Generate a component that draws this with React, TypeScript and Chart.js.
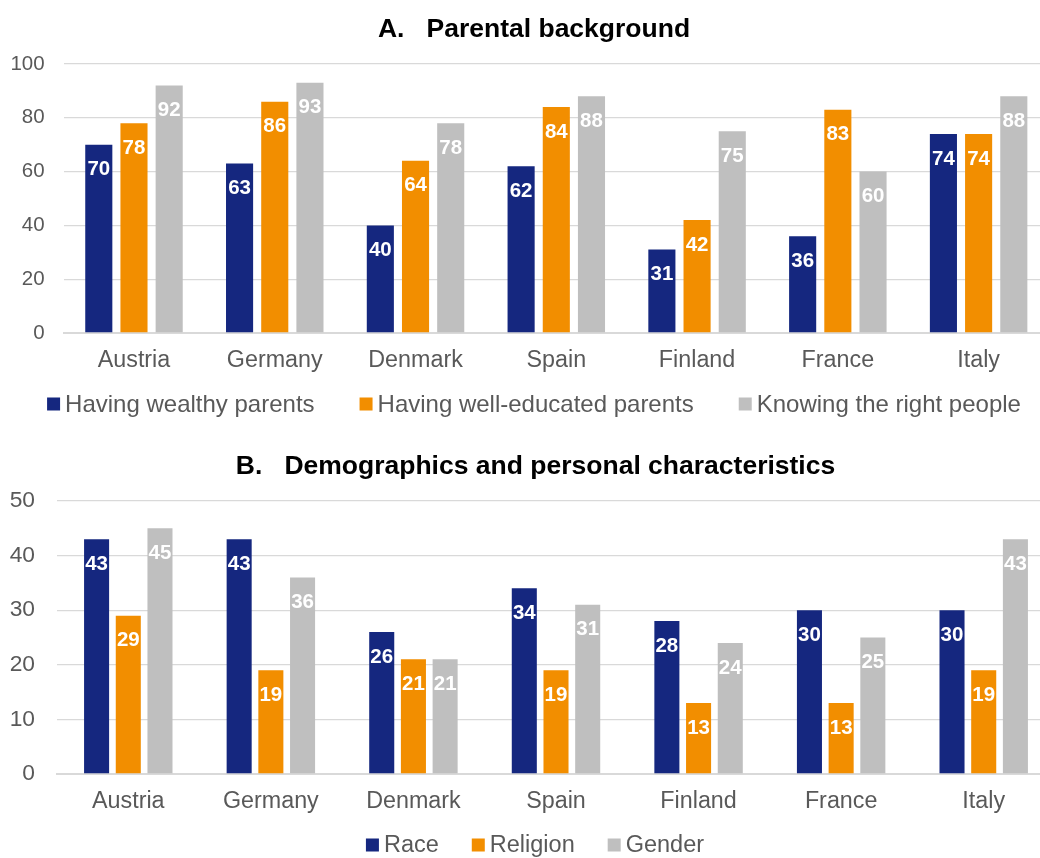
import React, { useEffect, useRef } from "react";
import { Chart, registerables } from "chart.js";

Chart.register(...registerables);

// ---------- data ----------
const countries = ["Austria", "Germany", "Denmark", "Spain", "Finland", "France", "Italy"];

const seriesNamesA = ["Having wealthy parents", "Having well-educated parents", "Knowing the right people"];
const wealthyParents = [70, 63, 40, 62, 31, 36, 74];
const educatedParents = [78, 86, 64, 84, 42, 83, 74];
const rightPeople = [92, 93, 78, 88, 75, 60, 88];
const ticksA = [0, 20, 40, 60, 80, 100];

const seriesNamesB = ["Race", "Religion", "Gender"];
const race = [43, 43, 26, 34, 28, 30, 30];
const religion = [29, 19, 21, 19, 13, 13, 19];
const gender = [45, 36, 21, 31, 24, 25, 43];
const ticksB = [0, 10, 20, 30, 40, 50];

const titleA = "A.   Parental background";
const titleB = "B.   Demographics and personal characteristics";

// ---------- styles ----------
const NAVY = "#15277F";
const ORANGE = "#F28E00";
const GRAY = "#BFBFBF";
const TEXT = "#595959";
const GRID = "#D9D9D9";
const FONT = "'Liberation Sans', Arial, Helvetica, sans-serif";

Chart.defaults.font.family = FONT;

const barLabels = {
  id: "barLabels",
  afterDatasetsDraw(chart: any, _args: any, opts: any) {
    const ctx = chart.ctx;
    ctx.save();
    ctx.font = `bold ${opts.size || 21}px ${FONT}`;
    ctx.fillStyle = "#ffffff";
    ctx.textAlign = "center";
    ctx.textBaseline = "middle";
    chart.data.datasets.forEach((ds: any, i: number) => {
      const meta = chart.getDatasetMeta(i);
      meta.data.forEach((bar: any, j: number) => {
        ctx.fillText(String(ds.data[j]), bar.x, bar.y + (opts.offset || 24));
      });
    });
    ctx.restore();
  },
};

const panelTitle = {
  id: "panelTitle",
  afterDraw(chart: any, _args: any, opts: any) {
    const ctx = chart.ctx;
    ctx.save();
    ctx.font = `bold ${opts.size}px ${FONT}`;
    ctx.fillStyle = "#000000";
    ctx.textAlign = "center";
    ctx.textBaseline = "middle";
    ctx.fillText(opts.text, opts.x, opts.y);
    ctx.restore();
  },
};

const boxLegend = {
  id: "boxLegend",
  afterDraw(chart: any, _args: any, opts: any) {
    const ctx = chart.ctx;
    const size = opts.fontSize || 23;
    const box = opts.box || 13;
    const gapBox = opts.gapBox || 5;
    const gap = opts.gap || 40;
    ctx.save();
    ctx.font = `${size}px ${FONT}`;
    ctx.textBaseline = "middle";
    ctx.textAlign = "left";
    const items = chart.data.datasets.map((ds: any) => ({
      text: ds.label,
      color: ds.backgroundColor,
      w: ctx.measureText(ds.label).width,
    }));
    const total =
      items.reduce((s: number, it: any) => s + box + gapBox + it.w, 0) + gap * (items.length - 1);
    let x = (opts.center ?? chart.width / 2) - total / 2;
    const y = opts.y;
    items.forEach((it: any) => {
      ctx.fillStyle = it.color;
      ctx.fillRect(x, y - box / 2, box, box);
      x += box + gapBox;
      ctx.fillStyle = TEXT;
      ctx.fillText(it.text, x, y + 1);
      x += it.w + gap;
    });
    ctx.restore();
  },
};

type PanelSpec = {
  title: string;
  names: string[];
  values: number[][];
  ticks: number[];
  width: number;
  height: number;
  axisLeft: number;
  padRight: number;
  tickPad: number;
  tickSize: number;
  plotTop: number;
  titleX: number;
  titleY: number;
  xAxisHeight: number;
  legendY: number;
  legendGap: number;
  legendCenter: number;
  legendFont: number;
  catPct: number;
  barPct: number;
};

function makeConfig(p: PanelSpec): any {
  const colors = [NAVY, ORANGE, GRAY];
  return {
    type: "bar",
    data: {
      labels: countries,
      datasets: p.values.map((vals, i) => ({
        label: p.names[i],
        data: vals,
        backgroundColor: colors[i],
        borderWidth: 0,
        categoryPercentage: p.catPct,
        barPercentage: p.barPct,
      })),
    },
    options: {
      responsive: false,
      animation: false,
      devicePixelRatio: 1,
      layout: { padding: { left: 0, right: p.padRight, top: p.plotTop, bottom: 0 } },
      plugins: {
        legend: { display: false },
        tooltip: { enabled: false },
        title: { display: false },
        panelTitle: { text: p.title, x: p.titleX, y: p.titleY, size: 26.5 },
        barLabels: { size: 20.5, offset: 25 },
        boxLegend: {
          y: p.legendY,
          gap: p.legendGap,
          fontSize: p.legendFont,
          box: 13,
          gapBox: 5,
          center: p.legendCenter,
        },
      },
      scales: {
        x: {
          grid: { display: false, drawTicks: false },
          border: { display: true, color: GRID, width: 2 },
          ticks: { color: TEXT, font: { size: 23.3 }, padding: 14 },
          afterFit: (s: any) => {
            s.height = p.xAxisHeight;
          },
        },
        y: {
          min: p.ticks[0],
          max: p.ticks[p.ticks.length - 1],
          grid: { color: GRID, lineWidth: 1.3, drawTicks: false },
          border: { display: false },
          ticks: { color: TEXT, font: { size: p.tickSize }, padding: p.tickPad },
          afterBuildTicks: (s: any) => {
            s.ticks = p.ticks.map((v) => ({ value: v }));
          },
          afterFit: (s: any) => {
            s.width = p.axisLeft;
          },
        },
      },
    },
    plugins: [barLabels, boxLegend, panelTitle],
  };
}

const panelA: PanelSpec = {
  title: titleA,
  names: seriesNamesA,
  values: [wealthyParents, educatedParents, rightPeople],
  ticks: ticksA,
  width: 1064,
  height: 430,
  axisLeft: 63.6,
  padRight: 15,
  tickPad: 19,
  tickSize: 20.5,
  plotTop: 64,
  titleX: 534,
  titleY: 30,
  xAxisHeight: 97,
  legendY: 404,
  legendGap: 45,
  legendCenter: 534,
  legendFont: 24,
  catPct: 0.75,
  barPct: 0.77,
};

const panelB: PanelSpec = {
  title: titleB,
  names: seriesNamesB,
  values: [race, religion, gender],
  ticks: ticksB,
  width: 1068,
  height: 428,
  axisLeft: 57,
  padRight: 13,
  tickPad: 22,
  tickSize: 22.8,
  plotTop: 71,
  titleX: 535.5,
  titleY: 37,
  xAxisHeight: 84,
  legendY: 415,
  legendGap: 33,
  legendCenter: 535,
  legendFont: 23.5,
  catPct: 0.667,
  barPct: 0.79,
};

function Panel({ spec, top }: { spec: PanelSpec; top: number }) {
  const ref = useRef<HTMLCanvasElement | null>(null);
  useEffect(() => {
    if (!ref.current) return;
    const chart = new Chart(ref.current, makeConfig(spec));
    return () => chart.destroy();
  }, [spec]);
  return (
    <canvas
      ref={ref}
      width={spec.width}
      height={spec.height}
      style={{ position: "absolute", left: 0, top, width: spec.width, height: spec.height }}
    />
  );
}

export default function App() {
  return (
    <div
      style={{
        position: "absolute",
        left: 0,
        top: 0,
        width: 1040,
        height: 858,
        overflow: "hidden",
        background: "#ffffff",
      }}
    >
      <Panel spec={panelA} top={0} />
      <Panel spec={panelB} top={430} />
    </div>
  );
}
